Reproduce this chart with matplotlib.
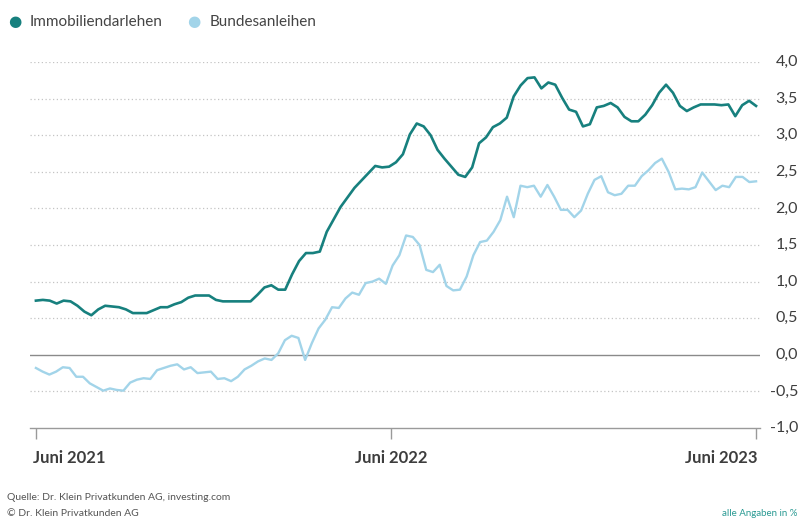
import pandas as pd
import matplotlib.pyplot as plt
import matplotlib.dates as mdates

plt.rcParams["font.family"] = ["Lato", "DejaVu Sans"]

# Wochenwerte in %, Juni 2021 bis Juni 2023
immobilien = [
    0.74, 0.75, 0.74, 0.70, 0.74, 0.73, 0.67, 0.59, 0.54, 0.62,
    0.67, 0.66, 0.65, 0.62, 0.57, 0.57, 0.57, 0.61, 0.65, 0.65,
    0.69, 0.72, 0.78, 0.81, 0.81, 0.81, 0.75, 0.73, 0.73, 0.73,
    0.73, 0.73, 0.82, 0.92, 0.95, 0.89, 0.89, 1.10, 1.28, 1.39,
    1.39, 1.41, 1.68, 1.85, 2.02, 2.15, 2.28, 2.38, 2.48, 2.58,
    2.56, 2.57, 2.63, 2.74, 3.01, 3.16, 3.12, 3.00, 2.80, 2.68,
    2.57, 2.46, 2.43, 2.56, 2.89, 2.97, 3.11, 3.16, 3.24, 3.53,
    3.68, 3.78, 3.79, 3.64, 3.72, 3.69, 3.51, 3.35, 3.32, 3.12,
    3.15, 3.38, 3.40, 3.44, 3.38, 3.25, 3.19, 3.19, 3.28, 3.41,
    3.58, 3.69, 3.58, 3.40, 3.33, 3.38, 3.42, 3.42, 3.42, 3.41,
    3.42, 3.26, 3.41, 3.47, 3.40,
]

bundesanleihen = [
    -0.18, -0.23, -0.27, -0.23, -0.17, -0.18, -0.30, -0.30, -0.39, -0.44,
    -0.49, -0.46, -0.48, -0.49, -0.38, -0.34, -0.32, -0.33, -0.21, -0.18,
    -0.15, -0.13, -0.20, -0.17, -0.25, -0.24, -0.23, -0.33, -0.32, -0.36,
    -0.30, -0.20, -0.15, -0.09, -0.05, -0.07, 0.02, 0.20, 0.26, 0.23,
    -0.07, 0.16, 0.36, 0.48, 0.65, 0.64, 0.77, 0.85, 0.82, 0.98,
    1.00, 1.04, 0.97, 1.22, 1.36, 1.63, 1.61, 1.50, 1.16, 1.13,
    1.23, 0.94, 0.88, 0.89, 1.07, 1.36, 1.54, 1.56, 1.68, 1.84,
    2.16, 1.88, 2.31, 2.29, 2.31, 2.16, 2.32, 2.16, 1.98, 1.98,
    1.88, 1.97, 2.20, 2.39, 2.44, 2.22, 2.18, 2.20, 2.31, 2.31,
    2.44, 2.52, 2.62, 2.68, 2.50, 2.26, 2.27, 2.26, 2.29, 2.49,
    2.37, 2.25, 2.31, 2.29, 2.43, 2.43, 2.36, 2.37,
]

start, end = "2021-06-01", "2023-06-01"
dates_immo = pd.date_range(start, end, periods=len(immobilien))
dates_bund = pd.date_range(start, end, periods=len(bundesanleihen))

tick_dates = pd.to_datetime(["2021-06-01", "2022-05-27", "2023-06-01"])
tick_labels = ["Juni 2021", "Juni 2022", "Juni 2023"]
y_ticks = [-1.0, -0.5, 0.0, 0.5, 1.0, 1.5, 2.0, 2.5, 3.0, 3.5, 4.0]

teal = "#17807e"
blue = "#a2d4e9"
grey_text = "#3d3d3d"

W, H = 801, 521
fig = plt.figure(figsize=(W / 100, H / 100), dpi=100)
ax = fig.add_axes([30 / W, 1 - 428 / H, 730 / W, 366 / H])

# grid
for y in y_ticks:
    if y == 0.0:
        ax.axhline(y, color="#8a8a8a", linewidth=1.0, zorder=1)
    elif y == -1.0:
        ax.axhline(y, color="#9a9a9a", linewidth=1.0, zorder=1, clip_on=False)
    else:
        ax.axhline(y, color="#c4c4c4", linewidth=0.9, linestyle=(0, (1, 2)), zorder=1)

ax.plot(dates_bund, bundesanleihen, color=blue, linewidth=1.7, zorder=2,
        solid_joinstyle="round")
ax.plot(dates_immo, immobilien, color=teal, linewidth=1.9, zorder=3,
        solid_joinstyle="round")

ax.set_ylim(-1.0, 4.0)
ax.set_xlim(pd.Timestamp("2021-06-01") - pd.Timedelta(days=6),
            pd.Timestamp("2023-06-01") + pd.Timedelta(days=4))

for s in ax.spines.values():
    s.set_visible(False)

ax.set_yticks([])
ax.set_xticks(tick_dates)
ax.set_xticklabels([])
ax.tick_params(axis="x", length=8, width=1, color="#9a9a9a", direction="out")

# y labels on the right
for y in y_ticks:
    ax.annotate(f"{y:.1f}".replace(".", ","), xy=(1.0, y),
                xycoords=ax.get_yaxis_transform(), xytext=(38, 0),
                textcoords="offset pixels", ha="right", va="center",
                fontsize=11.5, color=grey_text, annotation_clip=False)

# x labels
aligns = ["left", "center", "right"]
offsets = [-3, 0, 1]
for d, lab, ha, off in zip(tick_dates, tick_labels, aligns, offsets):
    ax.annotate(lab, xy=(mdates.date2num(d), 0), xycoords=ax.get_xaxis_transform(),
                xytext=(off, -30), textcoords="offset pixels", ha=ha, va="center",
                fontsize=12, fontweight="bold", color=grey_text, annotation_clip=False)

# legend
fig.text(15 / W, 1 - 22 / H, "●", color=teal, fontsize=11, ha="center", va="center",
         family="DejaVu Sans")
fig.text(30 / W, 1 - 22 / H, "Immobiliendarlehen", color="#444444", fontsize=11,
         ha="left", va="center")
fig.text(194 / W, 1 - 22 / H, "●", color=blue, fontsize=11, ha="center", va="center",
         family="DejaVu Sans")
fig.text(210 / W, 1 - 22 / H, "Bundesanleihen", color="#444444", fontsize=11,
         ha="left", va="center")

# footer
fig.text(7 / W, 1 - 498 / H, "Quelle: Dr. Klein Privatkunden AG, investing.com",
         color="#555555", fontsize=7.5, ha="left", va="center")
fig.text(7 / W, 1 - 513 / H, "© Dr. Klein Privatkunden AG",
         color="#555555", fontsize=7.5, ha="left", va="center")
fig.text(797 / W, 1 - 514 / H, "alle Angaben in %",
         color="#2a9a93", fontsize=7, ha="right", va="center")

fig.savefig("out.png", dpi=100)
